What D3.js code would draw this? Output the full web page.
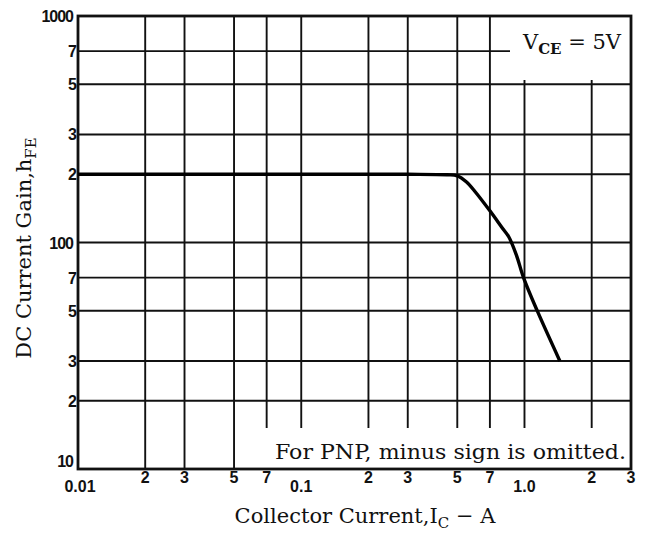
<!DOCTYPE html>
<html lang="en">
<head>
<meta charset="utf-8">
<title>DC Current Gain vs Collector Current</title>
<script src="https://d3js.org/d3.v7.min.js"></script>
<style>
	body { margin: 0; background: #fff; }
	.grid line { stroke: #111; stroke-width: 1.9px; }
	.tick-label { font-family: "Liberation Sans", Arial, sans-serif; font-weight: bold; font-size: 16px; fill: #111; }
	.title { font-family: "DejaVu Serif", "Liberation Serif", serif; font-size: 21px; fill: #111; }
	.note { font-family: "DejaVu Serif", "Liberation Serif", serif; font-size: 20px; fill: #111; }
</style>
</head>
<body>
<script>
	// hFE curve (VCE = 5V)
	var currentA = [0.01, 0.1, 0.3, 0.45, 0.5, 0.55, 0.6, 0.7, 0.8, 0.85, 0.92, 0.99, 1.14, 1.44];
	var gainHfe  = [200, 200, 200, 199, 197, 185, 168, 138, 115, 106, 88, 70, 50, 30];

	var xGrid = [0.02, 0.03, 0.05, 0.07, 0.1, 0.2, 0.3, 0.5, 0.7, 1.0, 2, 3];
	var xLabels = ["0.01", "2", "3", "5", "7", "0.1", "2", "3", "5", "7", "1.0", "2", "3"];
	var xLabelVals = [0.01, 0.02, 0.03, 0.05, 0.07, 0.1, 0.2, 0.3, 0.5, 0.7, 1.0, 2, 3];
	var yGrid = [20, 30, 50, 70, 100, 200, 300, 500, 700];
	var yLabels = ["10", "2", "3", "5", "7", "100", "2", "3", "5", "7", "1000"];
	var yLabelVals = [10, 20, 30, 50, 70, 100, 200, 300, 500, 700, 1000];

	var w = 645, h = 534;
	var pL = 78, pR = 631, pT = 16, pB = 469;

	var svg = d3.select("body").append("svg")
		.attr("width", w)
		.attr("height", h);

	var x = d3.scaleLog().domain([0.01, 3]).range([pL, pR]);
	var y = d3.scaleLog().domain([10, 1000]).range([pB, pT]);

	// areas where the grid is left out behind the two notes
	var noteBox = {x0: 262, y0: 428};
	var vceBox = {x0: 510, y1: 80};

	var grid = svg.append("g").attr("class", "grid");

	grid.selectAll("line.v")
		.data(xGrid)
		.enter().append("line")
		.attr("class", "v")
		.attr("x1", function(d) { return x(d); })
		.attr("x2", function(d) { return x(d); })
		.attr("y1", function(d) { return x(d) > vceBox.x0 ? vceBox.y1 : pT; })
		.attr("y2", function(d) { return x(d) > noteBox.x0 ? noteBox.y0 : pB; });

	grid.selectAll("line.h")
		.data(yGrid)
		.enter().append("line")
		.attr("class", "h")
		.attr("x1", pL)
		.attr("x2", function(d) { return y(d) < vceBox.y1 - 10 ? vceBox.x0 : pR; })
		.attr("y1", function(d) { return y(d); })
		.attr("y2", function(d) { return y(d); });

	// frame
	svg.append("rect")
		.attr("x", pL)
		.attr("y", pT)
		.attr("width", pR - pL)
		.attr("height", pB - pT)
		.style("fill", "none")
		.style("stroke", "#111")
		.style("stroke-width", 2.8);

	// curve
	var line = d3.line()
		.x(function(d, i) { return x(currentA[i]); })
		.y(function(d, i) { return y(gainHfe[i]); })
		.curve(d3.curveCatmullRom.alpha(0.5));

	svg.append("path")
		.datum(gainHfe)
		.attr("d", line)
		.style("fill", "none")
		.style("stroke", "#000")
		.style("stroke-width", 3.4)
		.style("stroke-linejoin", "round");

	// y tick labels
	svg.selectAll("text.ylab")
		.data(yLabelVals)
		.enter().append("text")
		.attr("class", "tick-label")
		.attr("x", function(d, i) { return yLabels[i].length > 1 ? pL - 5 : pL - 1; })
		.attr("y", function(d) { return d === 10 ? y(d) - 2 : y(d) + 6; })
		.attr("text-anchor", "end")
		.style("letter-spacing", function(d, i) { return yLabels[i].length > 1 ? "-1px" : "0px"; })
		.text(function(d, i) { return yLabels[i]; });

	// x tick labels
	svg.selectAll("text.xlab")
		.data(xLabelVals)
		.enter().append("text")
		.attr("class", "tick-label")
		.attr("x", function(d) { return d === 0.01 ? x(d) + 2 : x(d); })
		.attr("y", function(d, i) { return xLabels[i].indexOf(".") >= 0 ? 492 : 483; })
		.attr("text-anchor", "middle")
		.text(function(d, i) { return xLabels[i]; });

	// axis titles
	var yt = svg.append("text")
		.attr("class", "title")
		.attr("transform", "translate(31,248) rotate(-90)")
		.attr("text-anchor", "middle");
	yt.append("tspan").text("DC Current Gain,h");
	yt.append("tspan").attr("dy", 5).style("font-size", "15px").text("FE");

	var xt = svg.append("text")
		.attr("class", "title")
		.attr("x", 365)
		.attr("y", 523)
		.attr("text-anchor", "middle");
	xt.append("tspan").text("Collector Current,I");
	xt.append("tspan").attr("dy", 5).style("font-size", "15px").text("C");
	xt.append("tspan").attr("dy", -5).text(" \u2212 A");

	// notes
	svg.append("text")
		.attr("class", "note")
		.attr("x", 626)
		.attr("y", 459)
		.attr("text-anchor", "end")
		.attr("textLength", 351)
		.attr("lengthAdjust", "spacingAndGlyphs")
		.text("For PNP, minus sign is omitted.");

	var vt = svg.append("text")
		.attr("class", "note")
		.attr("x", 621)
		.attr("y", 49)
		.attr("text-anchor", "end")
		.style("font-size", "21px");
	vt.append("tspan").text("V");
	vt.append("tspan").attr("dy", 5).style("font-size", "15px").style("font-weight", "bold").text("CE");
	vt.append("tspan").attr("dy", -5).text(" = 5V");
</script>
</body>
</html>
